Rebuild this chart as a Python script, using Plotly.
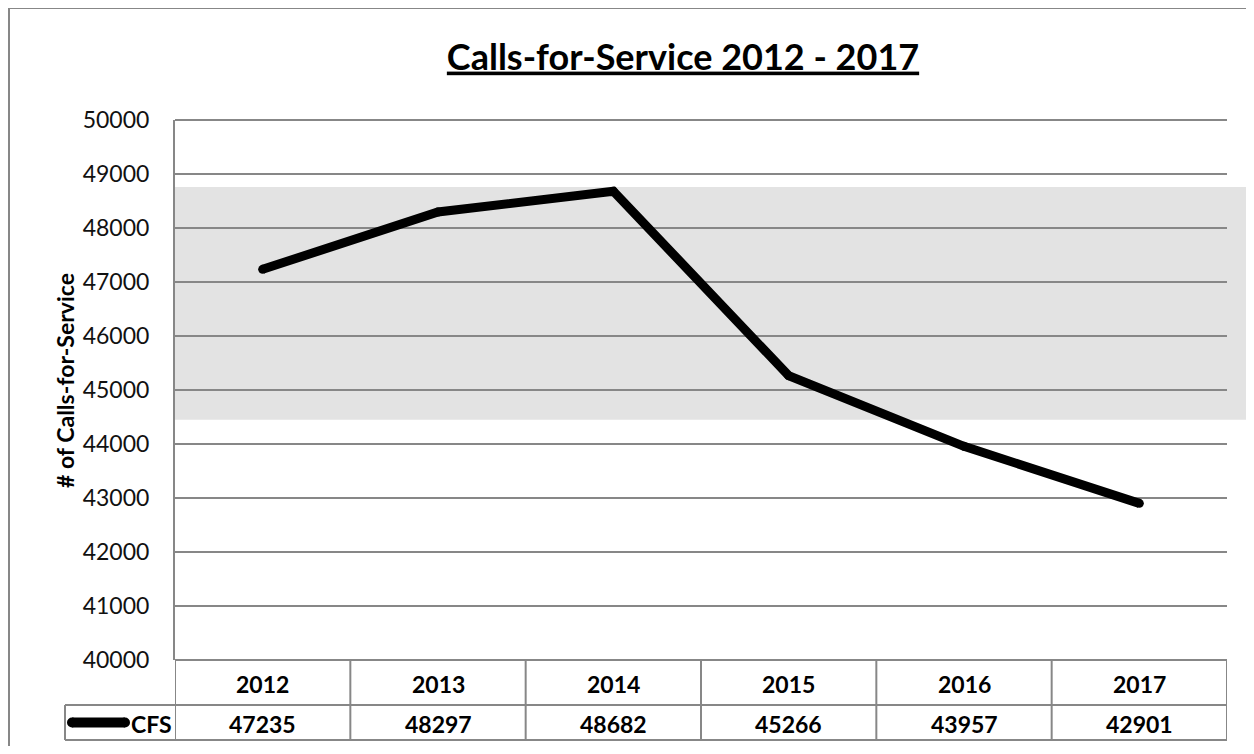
import plotly.graph_objs as go

#########
# DATA  #
#########

years = ["2012", "2013", "2014", "2015", "2016", "2017"]
cfs = [47235, 48297, 48682, 45266, 43957, 42901]
series_name = "CFS"
band_low = 44450   # shaded range
band_high = 48760

FONT = "Lato"
GRID = "#878787"

# page body has an 8px margin, so the figure is drawn 8px smaller on each side
W, H = 1238, 738
L, T = 167, 112          # plot area top-left inside the figure
PW, PH = 1052, 540       # plot area size


def px_x(x):
    """figure pixel x -> paper x"""
    return (x - L) / PW


def px_y(y):
    """figure pixel y -> paper y"""
    return (T + PH - y) / PH


fig = go.Figure()

# markers only round off the line ends
fig.add_trace(
    go.Scatter(
        x = list(range(len(years))),
        y = cfs,
        mode = "lines+markers",
        line = {"color": "black", "width": 9},
        marker = {"color": "black", "size": 9},
        name = series_name,
        showlegend = False
    )
)

# gray band behind gridlines
fig.add_shape(
    type = "rect", xref = "paper", yref = "y",
    x0 = 0, x1 = px_x(W + 10), y0 = band_low, y1 = band_high,
    fillcolor = "#e3e3e3", line_width = 0, layer = "below"
)

# outer chart border
fig.add_shape(
    type = "rect", xref = "paper", yref = "paper",
    x0 = px_x(1), x1 = px_x(W + 20), y0 = px_y(H + 20), y1 = px_y(0),
    line = {"color": GRID, "width": 2}, fillcolor = "rgba(0,0,0,0)"
)

# top gridline (plotly skips the one on the range edge)
fig.add_shape(type = "line", xref = "paper", yref = "paper",
              x0 = 0, x1 = 1, y0 = 1, y1 = 1,
              line = {"color": GRID, "width": 2})

################
#  DATA TABLE  #
################

row1 = -45 / PH
row2 = -80 / PH
leg_left = px_x(57)
line_style = {"color": GRID, "width": 2}
cell_font = {"family": FONT, "size": 23, "color": "black"}

# horizontal lines
fig.add_shape(type = "line", xref = "paper", yref = "paper",
              x0 = 0, x1 = 1, y0 = 0, y1 = 0, line = line_style)
for yy in (row1, row2):
    fig.add_shape(type = "line", xref = "paper", yref = "paper",
                  x0 = leg_left, x1 = 1, y0 = yy, y1 = yy, line = line_style)
# vertical lines
for k in range(len(years) + 1):
    fig.add_shape(type = "line", xref = "x", yref = "paper",
                  x0 = k - 0.5, x1 = k - 0.5, y0 = 0, y1 = row2, line = line_style)
fig.add_shape(type = "line", xref = "paper", yref = "paper",
              x0 = leg_left, x1 = leg_left, y0 = row1, y1 = row2, line = line_style)

for i, (yr, val) in enumerate(zip(years, cfs)):
    fig.add_annotation(x = i, xref = "x", y = row1 / 2 - 0.002, yref = "paper",
                       xanchor = "center", yanchor = "middle",
                       text = "<b>%s</b>" % yr, showarrow = False, font = cell_font)
    fig.add_annotation(x = i, xref = "x", y = (row1 + row2) / 2 - 0.002, yref = "paper",
                       xanchor = "center", yanchor = "middle",
                       text = "<b>%d</b>" % val, showarrow = False, font = cell_font)

# legend key inside table
fig.add_shape(type = "line", xref = "paper", yref = "paper",
              x0 = px_x(64), x1 = px_x(117),
              y0 = (row1 + row2) / 2, y1 = (row1 + row2) / 2,
              line = {"color": "black", "width": 10})
fig.add_shape(type = "circle", xref = "paper", yref = "paper",
              x0 = px_x(59), x1 = px_x(69),
              y0 = (row1 + row2) / 2 - 5 / PH, y1 = (row1 + row2) / 2 + 5 / PH,
              fillcolor = "black", line_width = 0)
fig.add_shape(type = "circle", xref = "paper", yref = "paper",
              x0 = px_x(112), x1 = px_x(122),
              y0 = (row1 + row2) / 2 - 5 / PH, y1 = (row1 + row2) / 2 + 5 / PH,
              fillcolor = "black", line_width = 0)
fig.add_annotation(x = px_x(121), xref = "paper", xanchor = "left",
                   y = (row1 + row2) / 2 - 0.002, yref = "paper", yanchor = "middle",
                   text = "<b>%s</b>" % series_name, showarrow = False, font = cell_font)

# y axis title
fig.add_annotation(x = px_x(57), xref = "paper", xanchor = "center",
                   y = px_y(373), yref = "paper", yanchor = "middle",
                   text = "<b># of Calls-for-Service</b>", textangle = -90,
                   showarrow = False,
                   font = {"family": FONT, "size": 23, "color": "black"})

fig.update_layout(
    width = W,
    height = H,
    margin = {"l": L, "r": W - L - PW, "t": T, "b": H - T - PH},
    paper_bgcolor = "white",
    plot_bgcolor = "rgba(0,0,0,0)",
    title = {
        "text": "<b><u>Calls-for-Service 2012 - 2017</u></b>",
        "x": 675 / W, "xanchor": "center",
        "y": 1 - 49 / H, "yanchor": "middle",
        "font": {"family": FONT, "size": 36, "color": "black"}
    },
    xaxis = {
        "range": [-0.5, 5.5],
        "showticklabels": False,
        "showgrid": False,
        "zeroline": False,
        "ticks": ""
    },
    yaxis = {
        "range": [40000, 50000],
        "dtick": 1000,
        "tick0": 40000,
        "tickformat": "d",
        "showgrid": True,
        "gridcolor": GRID,
        "gridwidth": 2,
        "showline": True,
        "linecolor": GRID,
        "linewidth": 2,
        "zeroline": False,
        "ticks": "",
        "ticklabelstandoff": 19,
        "tickfont": {"family": FONT, "size": 23, "color": "#111"}
    }
)

fig.write_html("out.html")
